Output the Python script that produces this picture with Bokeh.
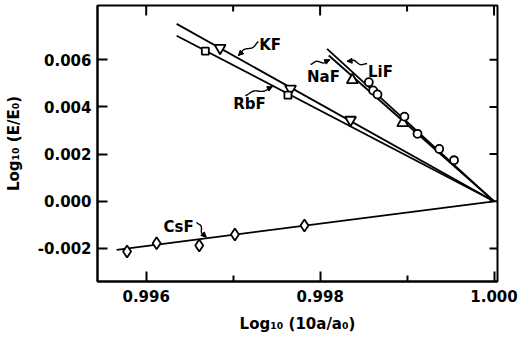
import numpy as np
from bokeh.plotting import figure
from bokeh.models import FixedTicker, Range1d, NumeralTickFormatter, Arrow, NormalHead
from bokeh.embed import file_html
from bokeh.resources import INLINE
from bokeh.core.properties import value

# measured points, log10(10a/a0) vs log10(E/E0)
csf_x = [0.99578, 0.99612, 0.99661, 0.99702, 0.99782]
csf_y = [-0.00213, -0.00178, -0.00187, -0.00141, -0.00103]
kf_x = [0.99685, 0.99766, 0.99835]
kf_y = [0.00650, 0.00477, 0.00345]
rbf_x = [0.99668, 0.99763]
rbf_y = [0.00637, 0.00450]
naf_x = [0.99837, 0.99895]
naf_y = [0.00514, 0.00332]
lif_x = [0.99856, 0.99861, 0.99866, 0.99897, 0.99912, 0.99937, 0.99954]
lif_y = [0.00505, 0.00470, 0.00453, 0.00359, 0.00286, 0.00222, 0.00174]

# fitted straight lines, all through (1.000, 0)
kf_line_x, kf_line_y = [0.99635, 1.0], [0.00752, 0.0]
rbf_line_x, rbf_line_y = [0.99635, 1.0], [0.00702, 0.0]
lif_line_x, lif_line_y = [0.99808, 1.0], [0.00646, 0.0]
naf_line_x, naf_line_y = [0.99810, 1.0], [0.00618, 0.0]
csf_line_x, csf_line_y = [0.99566, 1.0], [-0.00206, 0.0]

x_ticks = [0.996, 0.998, 1.000]
x_minor = [0.997, 0.999]
y_ticks = [-0.002, 0.000, 0.002, 0.004, 0.006]

X_MIN, X_MAX = 0.99544, 1.00004
Y_MIN, Y_MAX = -0.00340, 0.00830
W, H = 519, 337
LB, RB, TB, BB = 97, 22, 5, 56
FW, FH = W - LB - RB, H - TB - BB

FONT = "DejaVu Sans"
FS = "15px"

p = figure(width=W, height=H, output_backend="svg", toolbar_location=None,
           x_range=Range1d(X_MIN, X_MAX), y_range=Range1d(Y_MIN, Y_MAX),
           min_border_left=LB, min_border_right=RB, min_border_top=TB,
           min_border_bottom=BB, background_fill_color="white",
           border_fill_color="white", outline_line_color="black",
           outline_line_width=2)
p.grid.visible = False


def style_axis(ax):
    ax.axis_line_width = 2
    ax.axis_line_color = "black"
    ax.major_tick_line_width = 2
    ax.minor_tick_line_width = 2
    ax.major_tick_in = 10
    ax.major_tick_out = 0
    ax.minor_tick_in = 6
    ax.minor_tick_out = 0
    ax.major_label_text_font = FONT
    ax.major_label_text_font_style = "bold"
    ax.major_label_text_font_size = FS
    ax.major_label_text_color = "black"
    ax.axis_label_text_font = FONT
    ax.axis_label_text_font_style = "bold"
    ax.axis_label_text_font_size = FS
    ax.axis_label_text_color = "black"


p.xaxis.ticker = FixedTicker(ticks=x_ticks, minor_ticks=x_minor)
p.yaxis.ticker = FixedTicker(ticks=y_ticks, minor_ticks=[])
p.xaxis.formatter = NumeralTickFormatter(format="0.000")
p.yaxis.formatter = NumeralTickFormatter(format="0.000")
style_axis(p.xaxis[0])
style_axis(p.yaxis[0])
p.xaxis.axis_label = "Log₁₀ (10a/a₀)"
p.yaxis.axis_label = "Log₁₀ (E/E₀)"
p.xaxis.major_label_standoff = 8
p.yaxis.major_label_standoff = 6
p.xaxis.axis_label_standoff = 10
p.yaxis.axis_label_standoff = 12

# data units per screen pixel
sx = FW / (X_MAX - X_MIN)
sy = FH / (Y_MAX - Y_MIN)

# inward ticks on the top and right edges of the frame
seg = dict(line_color="black", line_width=2)
p.segment(x0=x_ticks, y0=[Y_MAX] * len(x_ticks),
          x1=x_ticks, y1=[Y_MAX - 10 / sy] * len(x_ticks), **seg)
p.segment(x0=x_minor, y0=[Y_MAX] * len(x_minor),
          x1=x_minor, y1=[Y_MAX - 6 / sy] * len(x_minor), **seg)
p.segment(x0=[X_MAX] * len(y_ticks), y0=y_ticks,
          x1=[X_MAX - 8 / sx] * len(y_ticks), y1=y_ticks, **seg)

# fitted lines
for lx, ly in [(kf_line_x, kf_line_y), (rbf_line_x, rbf_line_y),
               (lif_line_x, lif_line_y), (naf_line_x, naf_line_y),
               (csf_line_x, csf_line_y)]:
    p.line(lx, ly, line_color="black", line_width=1.8)

# open markers
mk = dict(line_color="black", fill_color="white", line_width=1.8)
p.scatter(csf_x, csf_y, marker="diamond", size=12, **mk)
p.scatter(kf_x, kf_y, marker="inverted_triangle", size=11, **mk)
p.scatter(rbf_x, rbf_y, marker="square", size=7, **mk)
p.scatter(naf_x, naf_y, marker="triangle", size=11, **mk)
p.scatter(lif_x, lif_y, marker="circle", size=8, **mk)

# compound labels
labels = ["KF", "RbF", "NaF", "LiF", "CsF"]
label_x = [0.99730, 0.99700, 0.99785, 0.99855, 0.99620]
label_y = [0.00664, 0.00414, 0.00529, 0.00550, -0.00107]
p.text(label_x, label_y, text=labels, text_font=value(FONT),
       text_font_style="bold", text_font_size=FS, text_baseline="middle",
       text_align="left", text_color="black")

# wavy leader lines from each label to its line
leaders = [
    ((0.99729, 0.00677), (0.99706, 0.00618)),
    ((0.99714, 0.00448), (0.99745, 0.00486)),
    ((0.99789, 0.00580), (0.99811, 0.00600)),
    ((0.99854, 0.00583), (0.99831, 0.00594)),
    ((0.99658, -0.00089), (0.99669, -0.00152)),
]
for (x0, y0), (x1, y1) in leaders:
    dx, dy = (x1 - x0) * sx, (y1 - y0) * sy
    length = np.hypot(dx, dy)
    nx, ny = -dy / length, dx / length
    t = np.linspace(0, 1, 30)
    wob = 2.2 * np.sin(2 * np.pi * t) * np.sin(np.pi * t)
    xs = x0 + (dx * t + nx * wob) / sx
    ys = y0 + (dy * t + ny * wob) / sy
    p.line(xs, ys, line_color="black", line_width=1.4)
    p.add_layout(Arrow(end=NormalHead(size=5, line_color="black", fill_color="black", line_width=1),
                       x_start=xs[-4], y_start=ys[-4], x_end=xs[-1], y_end=ys[-1],
                       line_width=1.4, line_color="black"))

open("out.html", "w").write(file_html(p, INLINE))
